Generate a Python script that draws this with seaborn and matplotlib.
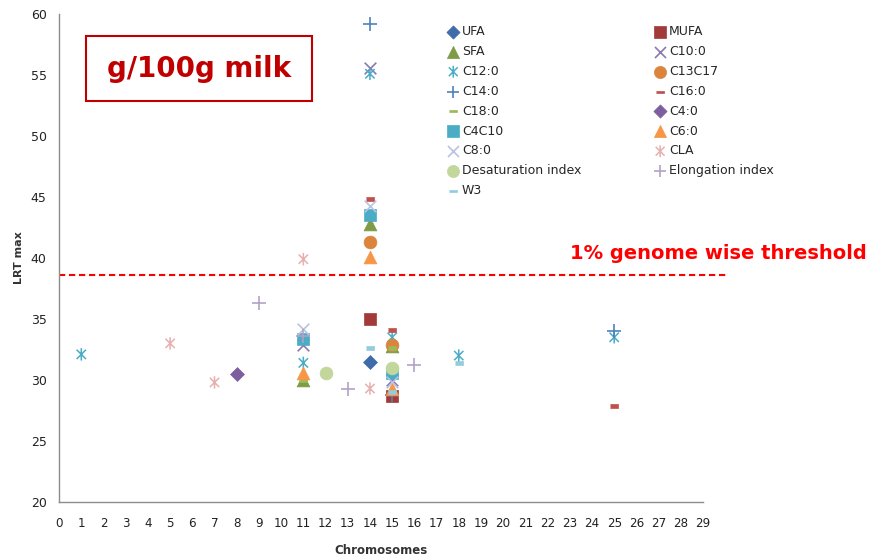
import numpy as np
import matplotlib
matplotlib.use("Agg")
import matplotlib.pyplot as plt
from matplotlib.path import Path
from matplotlib.patches import Rectangle
import seaborn as sns

# series names in Excel order
series_names = ["UFA", "MUFA", "SFA", "C10:0", "C12:0", "C13C17", "C14:0", "C16:0",
                "C18:0", "C4:0", "C4C10", "C6:0", "C8:0", "CLA",
                "Desaturation index", "Elongation index", "W3"]

# chromosome / LRT max per series
ufa_x, ufa_y = [14], [31.5]
mufa_x, mufa_y = [14, 15], [35.0, 28.7]
sfa_x, sfa_y = [11, 14, 15], [30.0, 42.8, 32.8]
c10_x, c10_y = [11, 14, 15], [32.9, 55.6, 30.0]
c12_x, c12_y = [1, 11, 14, 15, 18, 25], [32.1, 31.4, 55.1, 33.5, 32.0, 33.5]
c13c17_x, c13c17_y = [14, 15], [41.3, 32.9]
c14_x, c14_y = [14, 15, 25], [59.2, 28.8, 34.0]
c16_x, c16_y = [14, 15, 25], [44.8, 34.1, 27.9]
c18_x, c18_y = [11, 15], [30.0, 32.6]
c4_x, c4_y = [8], [30.5]
c4c10_x, c4c10_y = [11, 14, 15], [33.4, 43.5, 30.6]
c6_x, c6_y = [11, 14, 15], [30.6, 40.1, 29.3]
c8_x, c8_y = [11, 14, 15], [34.2, 44.3, 29.8]
cla_x, cla_y = [5, 7, 11, 14], [33.0, 29.8, 39.9, 29.3]
desat_x, desat_y = [12, 15], [30.6, 31.0]
elong_x, elong_y = [9, 11, 13, 16], [36.3, 33.6, 29.3, 31.2]
w3_x, w3_y = [14, 15, 18], [32.6, 29.0, 31.4]

threshold = 38.6
x_ticks = list(range(0, 30))
y_ticks = list(range(20, 61, 5))

# excel style markers
asterisk = Path([(0, -1), (0, 1), (-0.75, -0.75), (0.75, 0.75), (-0.75, 0.75), (0.75, -0.75)],
                [Path.MOVETO, Path.LINETO] * 3)
dash = [(-1, -0.4), (1, -0.4), (1, 0.4), (-1, 0.4)]

xs = [ufa_x, mufa_x, sfa_x, c10_x, c12_x, c13c17_x, c14_x, c16_x, c18_x, c4_x,
      c4c10_x, c6_x, c8_x, cla_x, desat_x, elong_x, w3_x]
ys = [ufa_y, mufa_y, sfa_y, c10_y, c12_y, c13c17_y, c14_y, c16_y, c18_y, c4_y,
      c4c10_y, c6_y, c8_y, cla_y, desat_y, elong_y, w3_y]
colors = ["#3F6CA8", "#A33A3A", "#7E9C45", "#8A78B0", "#4BACC6", "#DB843D", "#4F81BD",
          "#C0504D", "#9BBB59", "#7D5FA0", "#4BACC6", "#F79646", "#B9C3E0", "#E6B0AE",
          "#C3D69B", "#B3A2C7", "#93CDDD"]
markers = ["D", "s", "^", "x", asterisk, "o", "+", dash, dash, "D", "s", "^", "x",
           asterisk, "o", "+", dash]
sizes = [50, 85, 85, 70, 80, 85, 90, 30, 30, 50, 85, 85, 70, 80, 85, 90, 30]

sns.set_style("white")
plt.rcParams["font.family"] = ["DejaVu Sans"]

fig = plt.figure(figsize=(8.69, 5.6), dpi=100)
ax = fig.add_axes([0.068, 0.1036, 0.741, 0.8714])

for name, x, y, col, m, s in zip(series_names, xs, ys, colors, markers, sizes):
    if m in ("x", "+"):
        sns.scatterplot(x=x, y=y, marker=m, s=s, color=col, linewidth=1.2, label=name, ax=ax)
    elif m is asterisk:
        sns.scatterplot(x=x, y=y, marker=m, s=s, color=col, facecolor="none", edgecolor=col,
                        linewidth=1.1, label=name, ax=ax)
    else:
        sns.scatterplot(x=x, y=y, marker=m, s=s, color=col, edgecolor=col, linewidth=0.5,
                        label=name, ax=ax)

ax.get_legend().remove()

# threshold line runs a bit past the plot area
ax.plot([0, 30.1], [threshold, threshold], color="red", lw=1.5, dashes=(3, 1.8), clip_on=False)

ax.set_xlim(0, 29)
ax.set_ylim(20, 60)
ax.set_xticks(x_ticks)
ax.set_yticks(y_ticks)
ax.tick_params(axis="both", length=0, labelsize=9, colors="#222222")
ax.tick_params(axis="x", pad=11, labelsize=8.6)
ax.tick_params(axis="y", pad=9)
for side in ["top", "right"]:
    ax.spines[side].set_visible(False)
for side in ["left", "bottom"]:
    ax.spines[side].set_color("#8C8C8C")
    ax.spines[side].set_linewidth(1)

ax.set_xlabel("Chromosomes", fontsize=8.5, fontweight="bold", color="#333333", labelpad=10)
ax.set_ylabel("LRT max", fontsize=8, fontweight="bold", color="#333333", labelpad=5)

# legend: two columns filled row-wise like excel
handles, labels = ax.get_legend_handles_labels()
order = list(range(0, len(handles), 2)) + list(range(1, len(handles), 2))
fig.legend([handles[i] for i in order], [labels[i] for i in order], ncol=2,
           loc="upper left", bbox_to_anchor=(0.5, 0.975), frameon=False,
           fontsize=9, handletextpad=0.1, labelspacing=0.55, columnspacing=5.7,
           handlelength=1.2, markerscale=0.95)

# title box
fig.patches.append(Rectangle((86 / 869, 1 - 101 / 560), 226 / 869, 65 / 560,
                             transform=fig.transFigure, fill=False, edgecolor="#C00000",
                             linewidth=1.5))
fig.text(199 / 869, 1 - 69 / 560, "g/100g milk", ha="center", va="center",
         fontsize=20, fontweight="bold", color="#C00000")

fig.text(570 / 869, 1 - 254 / 560, "1% genome wise threshold", ha="left", va="center",
         fontsize=14, fontweight="bold", color="red")

fig.savefig("out.png", dpi=100)
